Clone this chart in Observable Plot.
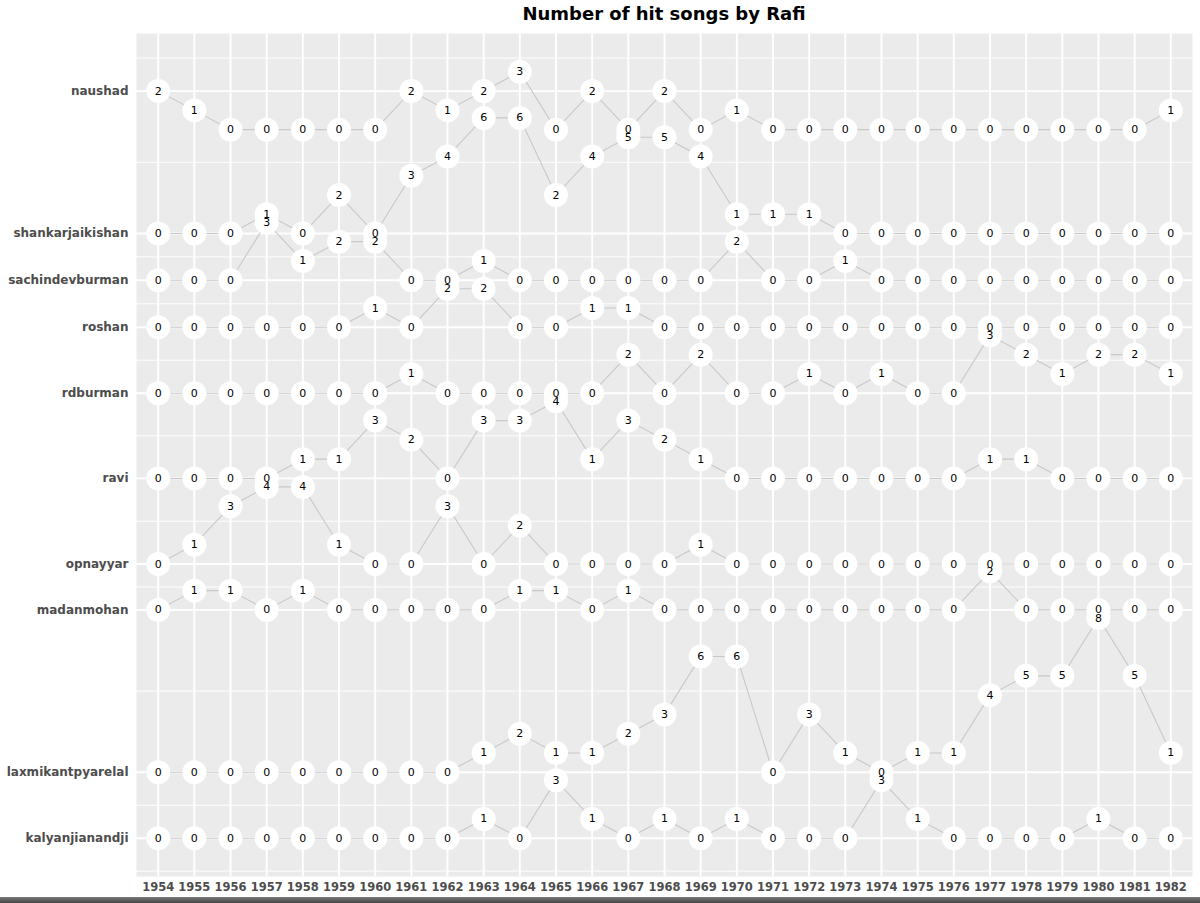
<!DOCTYPE html>
<html>
<head>
<meta charset="utf-8">
<script src="https://cdn.jsdelivr.net/npm/d3@7"></script>
<script src="https://cdn.jsdelivr.net/npm/@observablehq/plot@0.6"></script>
<style>
  html, body { margin: 0; padding: 0; background: #fff; font-family: "DejaVu Sans", sans-serif; }
  #title { height: 28px; line-height: 28px; font-size: 18px; font-weight: bold; text-align: center;
           padding-left: 136px; padding-right: 8px; color: #000; }
  #bar { height: 6px; background: linear-gradient(#7a7a7a, #444); }
</style>
</head>
<body>
<div id="title">Number of hit songs by Rafi</div>
<div id="chart"></div>
<div id="bar"></div>
<script>
// ---- data ----
const years = [1954,1955,1956,1957,1958,1959,1960,1961,1962,1963,1964,1965,1966,1967,1968,
               1969,1970,1971,1972,1973,1974,1975,1976,1977,1978,1979,1980,1981,1982];

const composers = ["kalyanjianandji","laxmikantpyarelal","madanmohan","opnayyar","ravi",
                   "rdburman","roshan","sachindevburman","shankarjaikishan","naushad"];

// row offset of each composer (in hit units) on the stacked y axis
const rowOffset = [0, 3.42, 11.84, 14.22, 18.66, 23.08, 26.5, 28.94, 31.36, 36.75];

const kalyanjianandji   = [0,0,0,0,0,0,0,0,0,1,0,3,1,0,1,0,1,0,0,0,3,1,0,0,0,0,1,0,0];
const laxmikantpyarelal = [0,0,0,0,0,0,0,0,0,1,2,1,1,2,3,6,6,0,3,1,0,1,1,4,5,5,8,5,1];
const madanmohan        = [0,1,1,0,1,0,0,0,0,0,1,1,0,1,0,0,0,0,0,0,0,0,0,2,0,0,0,0,0];
const opnayyar          = [0,1,3,4,4,1,0,0,3,0,2,0,0,0,0,1,0,0,0,0,0,0,0,0,0,0,0,0,0];
const ravi              = [0,0,0,0,1,1,3,2,0,3,3,4,1,3,2,1,0,0,0,0,0,0,0,1,1,0,0,0,0];
const rdburman          = [0,0,0,0,0,0,0,1,0,0,0,0,0,2,0,2,0,0,1,0,1,0,0,3,2,1,2,2,1];
const roshan            = [0,0,0,0,0,0,1,0,2,2,0,0,1,1,0,0,0,0,0,0,0,0,0,0,0,0,0,0,0];
const sachindevburman   = [0,0,0,3,1,2,2,0,0,1,0,0,0,0,0,0,2,0,0,1,0,0,0,0,0,0,0,0,0];
const shankarjaikishan  = [0,0,0,1,0,2,0,3,4,6,6,2,4,5,5,4,1,1,1,0,0,0,0,0,0,0,0,0,0];
const naushad           = [2,1,0,0,0,0,0,2,1,2,3,0,2,0,2,0,1,0,0,0,0,0,0,0,0,0,0,0,1];

const hits = {kalyanjianandji, laxmikantpyarelal, madanmohan, opnayyar, ravi,
              rdburman, roshan, sachindevburman, shankarjaikishan, naushad};

// ---- build table ----
const data = composers.flatMap((c, i) => years.map((yr, j) => ({
  composer: c, year: yr, value: hits[c][j], y: rowOffset[i] + hits[c][j]
})));
const majors = composers.map((c, i) => ({pos: rowOffset[i] + hits[c][0], name: c}));
const nameAt = new Map(majors.map(d => [d.pos, d.name]));
const majorPos = majors.map(d => d.pos).sort((a, b) => a - b);

const ext = d3.extent(data, d => d.y);
const pad = (ext[1] - ext[0]) * 0.05;
const yDomain = [ext[0] - pad, ext[1] + pad];
const xDomain = [years[0] - 0.6, years[years.length - 1] + 0.6];

// minor grid (midpoints between major breaks, extended like ggplot)
const b = majorPos.slice();
const bd = b[1] - b[0];
if (yDomain[0] < b[0]) b.unshift(b[0] - bd);
if (yDomain[1] > b[b.length - 1]) b.push(b[b.length - 1] + bd);
const minors = d3.pairs(b).map(([p, q]) => (p + q) / 2).filter(v => v >= yDomain[0] && v <= yDomain[1]);

const chart = Plot.plot({
  width: 1200,
  height: 869,
  marginTop: 5,
  marginBottom: 21,
  marginLeft: 136,
  marginRight: 8,
  style: {fontFamily: "DejaVu Sans", background: "white"},
  x: {domain: xDomain, label: null},
  y: {domain: yDomain, label: null},
  marks: [
    Plot.frame({fill: "#EBEBEB", stroke: "none"}),
    Plot.ruleY(minors, {stroke: "white", strokeWidth: 0.95}),
    Plot.ruleY(majorPos, {stroke: "white", strokeWidth: 1.9}),
    Plot.ruleX(years, {stroke: "white", strokeWidth: 1.9}),
    Plot.line(data, {x: "year", y: "y", z: "composer", stroke: "#C8C8C8", strokeWidth: 1.1}),
    Plot.dot(data, {x: "year", y: "y", r: 12, fill: "white", stroke: "none"}),
    Plot.text(data, {x: "year", y: "y", text: d => String(d.value), fontSize: 11, fill: "black"}),
    Plot.axisY(majorPos, {label: null, tickSize: 0, tickPadding: 8, tickFormat: v => nameAt.get(v),
      fontSize: 12, fontWeight: "bold", color: "#4D4D4D"}),
    Plot.axisX(years, {label: null, tickSize: 0, tickPadding: 6, tickFormat: d => String(d),
      fontSize: 11.5, fontWeight: "bold", color: "#4D4D4D"})
  ]
});
document.getElementById("chart").appendChild(chart);
</script>
</body>
</html>
